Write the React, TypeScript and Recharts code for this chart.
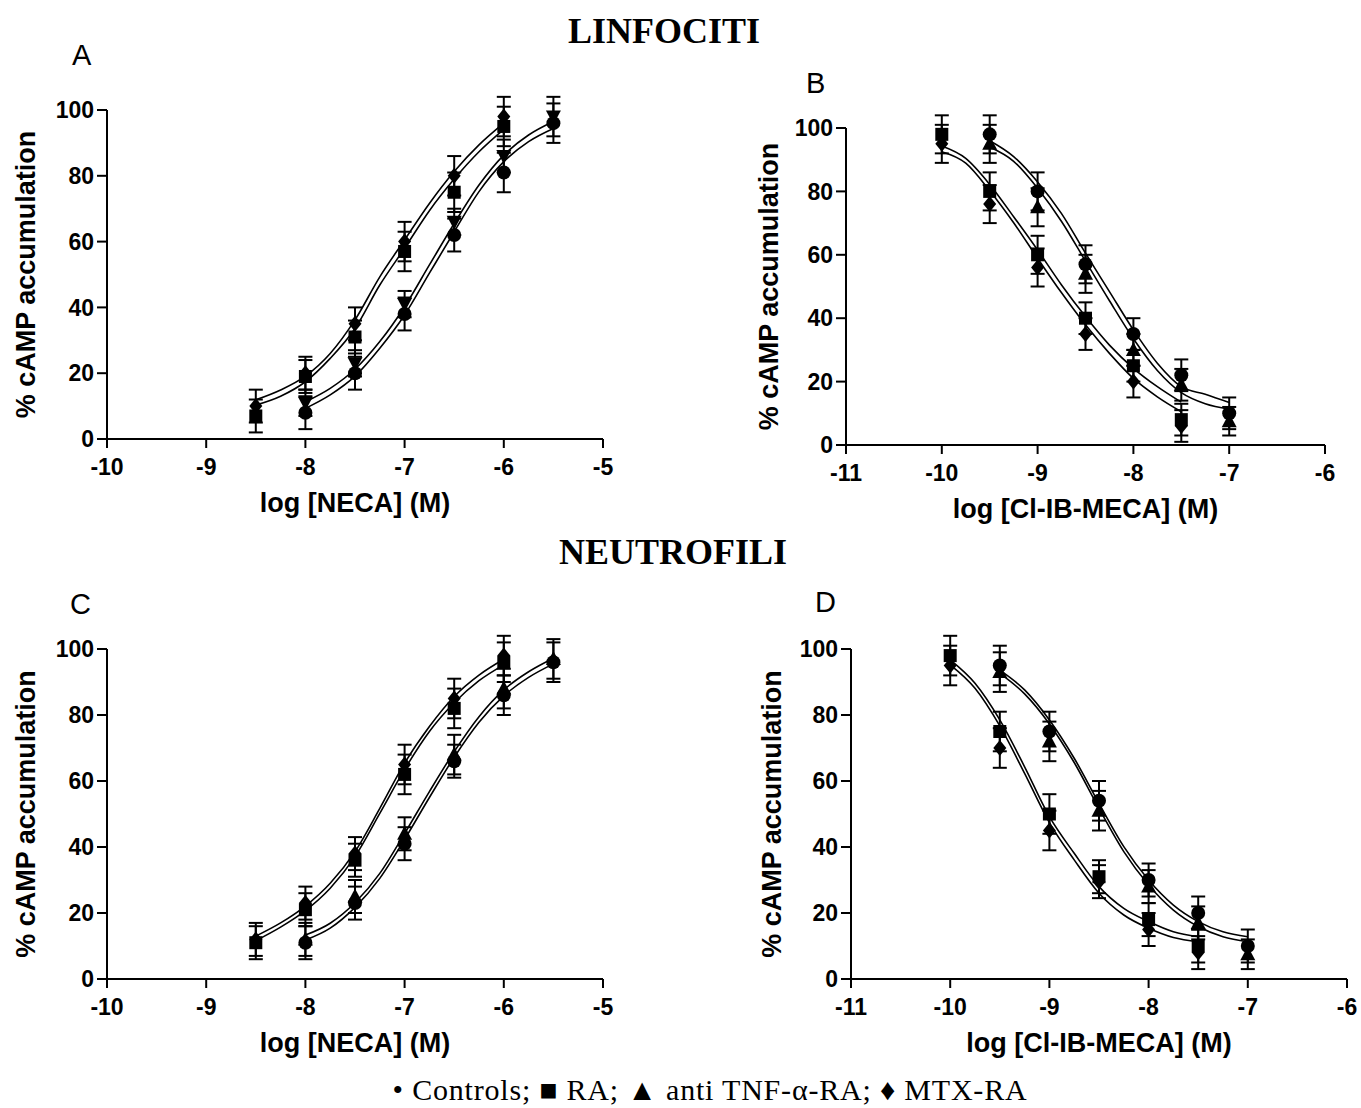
import { ComposedChart, ErrorBar, Label, Line, Scatter, XAxis, YAxis } from "recharts";

// [log concentration, % cAMP, SEM]
type Row = [number, number, number];

const yTicks = [0, 20, 40, 60, 80, 100];
const necaTicks = [-10, -9, -8, -7, -6, -5];
const mecaTicks = [-11, -10, -9, -8, -7, -6];

// A - lymphocytes, NECA
const aCtrl: Row[] = [[-8, 8, 5], [-7.5, 20, 5], [-7, 38, 5], [-6.5, 62, 5], [-6, 81, 6], [-5.5, 96, 6]];
const aTnf: Row[] = [[-8, 11, 4], [-7.5, 23, 4], [-7, 41, 4], [-6.5, 66, 4], [-6, 86, 5], [-5.5, 98, 6]];
const aRa: Row[] = [[-8.5, 7, 5], [-8, 19, 5], [-7.5, 31, 5], [-7, 57, 6], [-6.5, 75, 6], [-6, 95, 6]];
const aMtx: Row[] = [[-8.5, 10, 5], [-8, 20, 5], [-7.5, 35, 5], [-7, 60, 6], [-6.5, 80, 6], [-6, 98, 6]];
const aFitXLeft = [-8.5, -8.25, -8, -7.75, -7.5, -7.25, -7, -6.75, -6.5, -6.25, -6];
const aFitXRight = [-8, -7.75, -7.5, -7.25, -7, -6.75, -6.5, -6.25, -6, -5.75, -5.5];
const aMtxFit = [11.9, 14.9, 19.1, 26, 36.2, 49.3, 60.5, 71.6, 81.3, 89.4, 96];
const aRaFit = [10.3, 13, 17.4, 24.5, 33.6, 46.8, 58, 69.4, 79, 87.3, 94.1];
const aTnfFit = [11.3, 15.4, 21.2, 29.6, 40.2, 52.9, 65.5, 77.2, 86.3, 92.4, 96.5];
const aCtrlFit = [9.3, 13.4, 19.1, 27.6, 37.7, 50.4, 63, 75.2, 84.3, 90.4, 94.4];

// B - lymphocytes, Cl-IB-MECA
const bCtrl: Row[] = [[-9.5, 98, 6], [-9, 80, 6], [-8.5, 57, 6], [-8, 35, 5], [-7.5, 22, 5], [-7, 10, 5]];
const bTnf: Row[] = [[-9.5, 95, 6], [-9, 75, 6], [-8.5, 54, 6], [-8, 30, 5], [-7.5, 19, 5], [-7, 7.5, 4.5]];
const bRa: Row[] = [[-10, 98, 6], [-9.5, 80, 6], [-9, 60, 6], [-8.5, 40, 5], [-8, 25, 5], [-7.5, 8, 5]];
const bMtx: Row[] = [[-10, 95, 6], [-9.5, 76, 6], [-9, 56, 6], [-8.5, 35, 5], [-8, 20, 5], [-7.5, 6, 5]];
const bFitXLeft = [-10, -9.75, -9.5, -9.25, -9, -8.75, -8.5, -8.25, -8, -7.75, -7.5];
const bFitXRight = [-9.5, -9.25, -9, -8.75, -8.5, -8.25, -8, -7.75, -7.5, -7.25, -7];
const bRaFit = [94.3, 90.4, 82.2, 72, 61.5, 50.5, 40.5, 31.5, 24.2, 18.4, 13.5];
const bMtxFit = [92.5, 88.9, 80.2, 70.1, 58.9, 48, 37.9, 28.9, 21, 15.2, 10.5];
const bCtrlFit = [96, 91, 83, 73, 60.5, 48.4, 36.3, 25.8, 18.4, 16, 13.4];
const bTnfFit = [94, 89.5, 81, 70.5, 58, 45.5, 33.5, 23.5, 16.5, 13, 11.3];

// C - neutrophils, NECA
const cCtrl: Row[] = [[-8, 11, 5], [-7.5, 23, 5], [-7, 41, 5], [-6.5, 66, 5], [-6, 86, 6], [-5.5, 96, 6]];
const cTnf: Row[] = [[-8, 12, 5], [-7.5, 25, 5], [-7, 44, 5], [-6.5, 68, 6], [-6, 88, 6], [-5.5, 97, 6]];
const cRa: Row[] = [[-8.5, 11, 5], [-8, 21, 5], [-7.5, 36, 5], [-7, 62, 6], [-6.5, 82, 6], [-6, 96, 6]];
const cMtx: Row[] = [[-8.5, 12, 5], [-8, 23, 5], [-7.5, 38, 5], [-7, 65, 6], [-6.5, 85, 6], [-6, 98, 6]];
const cMtxFit = [13, 17, 22.1, 29, 38.6, 51.7, 65.4, 76.5, 85.6, 92.1, 96.9];
const cRaFit = [11.6, 15.7, 20.7, 27.5, 37.1, 50.2, 63.5, 75, 83.7, 90.4, 95.2];
const cTnfFit = [13.3, 16.9, 23.1, 32, 44.1, 56.8, 68.9, 79.5, 87.6, 93.1, 97.2];
const cCtrlFit = [11.8, 15.4, 21.7, 30.5, 42.3, 55, 67.2, 77.8, 85.8, 91.4, 95.5];

// D - neutrophils, Cl-IB-MECA
const dCtrl: Row[] = [[-9.5, 95, 6], [-9, 75, 6], [-8.5, 54, 6], [-8, 30, 5], [-7.5, 20, 5], [-7, 10, 5]];
const dTnf: Row[] = [[-9.5, 93, 6], [-9, 72, 6], [-8.5, 51, 6], [-8, 28, 5], [-7.5, 17, 5], [-7, 7.5, 4.5]];
const dRa: Row[] = [[-10, 98, 6], [-9.5, 75, 6], [-9, 50, 6], [-8.5, 31, 5], [-8, 18, 5], [-7.5, 10, 5]];
const dMtx: Row[] = [[-10, 95, 6], [-9.5, 70, 6], [-9, 45, 6], [-8.5, 29.5, 5], [-8, 15, 5], [-7.5, 8, 5]];
const dRaFit = [96.7, 89.6, 78.5, 64.3, 49.2, 38.1, 28, 21.4, 17.4, 14.3, 12.8];
const dMtxFit = [95.2, 88.1, 76.7, 62.3, 47.4, 36.1, 26, 19.4, 15.4, 12.6, 11.3];
const dCtrlFit = [93.6, 87.6, 78.5, 66.9, 53.2, 40.1, 30, 22.4, 17.4, 14.3, 12.8];
const dTnfFit = [92.6, 86.4, 77.3, 65.6, 51.7, 38.6, 28.5, 20.9, 15.9, 12.8, 11.3];

const SANS = '"Liberation Sans", Arial, sans-serif';
const SERIF = '"Liberation Serif", "Times New Roman", serif';

const YW = 100; // y axis band
const MT = 20;
const MR = 20;
const XH = 85;

const pts = (rows: Row[]) => rows.map(([x, y, e]) => ({ x, y, e }));
const fit = (xs: number[], ys: number[]) => xs.map((x, i) => ({ x, y: ys[i] }));

const Dot = (p: any) => <circle cx={p.cx} cy={p.cy} r={7} fill="#000" />;
const Box = (p: any) => <rect x={p.cx - 6.5} y={p.cy - 6.5} width={13} height={13} fill="#000" />;
const TriUp = (p: any) => (
  <polygon points={`${p.cx},${p.cy - 8} ${p.cx + 7.5},${p.cy + 6} ${p.cx - 7.5},${p.cy + 6}`} fill="#000" />
);
const TriDown = (p: any) => (
  <polygon points={`${p.cx},${p.cy + 8} ${p.cx + 7.5},${p.cy - 6} ${p.cx - 7.5},${p.cy - 6}`} fill="#000" />
);
const Diamond = (p: any) => (
  <polygon points={`${p.cx},${p.cy - 8} ${p.cx + 6.5},${p.cy} ${p.cx},${p.cy + 8} ${p.cx - 6.5},${p.cy}`} fill="#000" />
);

interface PanelProps {
  left: number;
  top: number;
  width: number;
  height: number;
  domain: [number, number];
  ticks: number[];
  xTitle: string;
  yTitleX: number;
  curves: { x: number; y: number }[][];
  series: { rows: Row[]; shape: any }[];
}

function Panel({ left, top, width, height, domain, ticks, xTitle, yTitleX, curves, series }: PanelProps) {
  const chartLeft = left - YW;
  const tickStyle = { fill: "#000", fontSize: 23, fontWeight: "bold", fontFamily: SANS };
  const axisLine = { stroke: "#000", strokeWidth: 2 };
  return (
    <div style={{ position: "absolute", left: chartLeft, top: top - MT }}>
      <ComposedChart width={YW + width + MR} height={MT + height + XH} margin={{ top: MT, right: MR, bottom: 0, left: 0 }}>
        <XAxis
          type="number"
          dataKey="x"
          domain={domain}
          ticks={ticks}
          interval={0}
          allowDataOverflow
          height={XH}
          tickSize={9}
          tickMargin={11}
          axisLine={axisLine}
          tickLine={axisLine}
          tick={tickStyle}
        >
          <Label
            content={() => (
              <text
                x={YW + width / 2}
                y={MT + height + 73}
                textAnchor="middle"
                fontFamily={SANS}
                fontWeight="bold"
                fontSize={27}
                fill="#000"
              >
                {xTitle}
              </text>
            )}
          />
        </XAxis>
        <YAxis
          type="number"
          dataKey="y"
          domain={[0, 100]}
          ticks={yTicks}
          interval={0}
          allowDataOverflow
          width={YW}
          tickSize={10}
          tickMargin={3}
          axisLine={axisLine}
          tickLine={axisLine}
          tick={tickStyle}
        >
          <Label
            content={() => {
              const cx = yTitleX - chartLeft;
              const cy = MT + height / 2;
              return (
                <text
                  x={cx}
                  y={cy}
                  dy="0.355em"
                  textAnchor="middle"
                  transform={`rotate(-90, ${cx}, ${cy})`}
                  fontFamily={SANS}
                  fontWeight="bold"
                  fontSize={27}
                  fill="#000"
                >
                  % cAMP accumulation
                </text>
              );
            }}
          />
        </YAxis>
        {curves.map((c, i) => (
          <Line
            key={`fit-${i}`}
            data={c}
            dataKey="y"
            type="monotone"
            stroke="#000"
            strokeWidth={1.6}
            dot={false}
            activeDot={false}
            isAnimationActive={false}
          />
        ))}
        {series.map((s, i) => (
          <Scatter key={`pts-${i}`} data={pts(s.rows)} dataKey="y" shape={s.shape} isAnimationActive={false}>
            <ErrorBar dataKey="e" direction="y" width={7} stroke="#000" strokeWidth={2} />
          </Scatter>
        ))}
      </ComposedChart>
    </div>
  );
}

export default function App() {
  return (
    <div style={{ position: "absolute", left: 0, top: 0, width: 1361, height: 1108, background: "#fff" }}>
      <style>{`.recharts-wrapper [clip-path] { clip-path: none !important; }`}</style>

      <Panel
        left={107}
        top={110}
        width={496}
        height={329}
        domain={[-10, -5]}
        ticks={necaTicks}
        xTitle="log [NECA] (M)"
        yTitleX={25}
        curves={[
          fit(aFitXLeft, aMtxFit),
          fit(aFitXLeft, aRaFit),
          fit(aFitXRight, aTnfFit),
          fit(aFitXRight, aCtrlFit),
        ]}
        series={[
          { rows: aCtrl, shape: Dot },
          { rows: aRa, shape: Box },
          { rows: aTnf, shape: TriDown },
          { rows: aMtx, shape: Diamond },
        ]}
      />
      <Panel
        left={846}
        top={128}
        width={479}
        height={317}
        domain={[-11, -6]}
        ticks={mecaTicks}
        xTitle="log [Cl-IB-MECA] (M)"
        yTitleX={768}
        curves={[
          fit(bFitXLeft, bRaFit),
          fit(bFitXLeft, bMtxFit),
          fit(bFitXRight, bCtrlFit),
          fit(bFitXRight, bTnfFit),
        ]}
        series={[
          { rows: bCtrl, shape: Dot },
          { rows: bRa, shape: Box },
          { rows: bTnf, shape: TriUp },
          { rows: bMtx, shape: Diamond },
        ]}
      />
      <Panel
        left={107}
        top={649}
        width={496}
        height={330}
        domain={[-10, -5]}
        ticks={necaTicks}
        xTitle="log [NECA] (M)"
        yTitleX={25}
        curves={[
          fit(aFitXLeft, cMtxFit),
          fit(aFitXLeft, cRaFit),
          fit(aFitXRight, cTnfFit),
          fit(aFitXRight, cCtrlFit),
        ]}
        series={[
          { rows: cCtrl, shape: Dot },
          { rows: cRa, shape: Box },
          { rows: cTnf, shape: TriUp },
          { rows: cMtx, shape: Diamond },
        ]}
      />
      <Panel
        left={851}
        top={649}
        width={496}
        height={330}
        domain={[-11, -6]}
        ticks={mecaTicks}
        xTitle="log [Cl-IB-MECA] (M)"
        yTitleX={771}
        curves={[
          fit(bFitXLeft, dRaFit),
          fit(bFitXLeft, dMtxFit),
          fit(bFitXRight, dCtrlFit),
          fit(bFitXRight, dTnfFit),
        ]}
        series={[
          { rows: dCtrl, shape: Dot },
          { rows: dRa, shape: Box },
          { rows: dTnf, shape: TriUp },
          { rows: dMtx, shape: Diamond },
        ]}
      />

      <svg
        width={1361}
        height={1108}
        style={{ position: "absolute", left: 0, top: 0, pointerEvents: "none" }}
      >
        <g fontFamily={SERIF} fontWeight="bold" fontSize={36} textAnchor="middle" fill="#000">
          <text x={664} y={43}>LINFOCITI</text>
          <text x={673} y={564}>NEUTROFILI</text>
        </g>
        <g fontFamily={SANS} fontSize={29} fill="#000">
          <text x={72} y={65}>A</text>
          <text x={806} y={93}>B</text>
          <text x={70} y={614}>C</text>
          <text x={815} y={612}>D</text>
        </g>
        <text x={710} y={1100} textAnchor="middle" fontFamily={SERIF} fontSize={30} letterSpacing={0.8} fill="#000">
          • Controls; ■ RA; ▲ anti TNF-α-RA; ♦ MTX-RA
        </text>
      </svg>
    </div>
  );
}
